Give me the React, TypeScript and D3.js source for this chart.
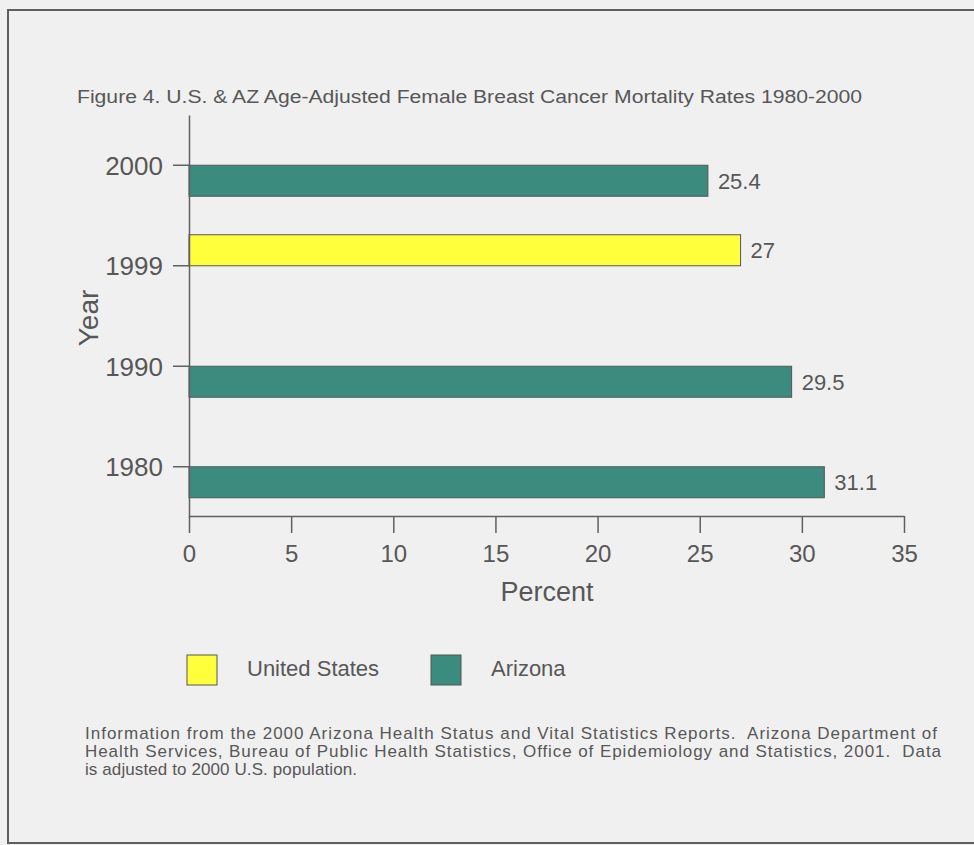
import { useRef, useEffect } from "react";
import * as d3 from "d3";

const years = ["2000", "1999", "1990", "1980"];
const seriesNames = ["United States", "Arizona"];
const usValues = [null, 27, null, null];
const azValues = [25.4, null, 29.5, 31.1];
const xTicks = [0, 5, 10, 15, 20, 25, 30, 35];
const seriesColors = ["#ffff3c", "#3b8b7f"];

const titleText = "Figure 4. U.S. & AZ Age-Adjusted Female Breast Cancer Mortality Rates 1980-2000";
const noteLines = [
    "Information from the 2000 Arizona Health Status and Vital Statistics Reports.  Arizona Department of",
    "Health Services, Bureau of Public Health Statistics, Office of Epidemiology and Statistics, 2001.  Data",
    "is adjusted to 2000 U.S. population.",
];
const noteWidths = [852, 856, 272];

const App = () => {
    const svgRef = useRef<SVGSVGElement>(null);

    useEffect(() => {
        const width = 974;
        const height = 845;
        const font = "'Liberation Sans', Arial, sans-serif";
        const textColor = "#575757";
        const axisColor = "#606060";

        const svg = d3.select(svgRef.current);
        svg.selectAll("*").remove();
        svg.attr("width", width).attr("height", height).style("font-family", font);

        // background + frame
        svg.append("rect").attr("width", width).attr("height", height).attr("fill", "#f0f0f0");
        svg.append("path")
            .attr("d", `M${width + 5},10 H8 V843 H${width + 5}`)
            .attr("fill", "none")
            .attr("stroke", "#5e5e5e")
            .attr("stroke-width", 2);

        svg.append("text")
            .attr("x", 77)
            .attr("y", 103)
            .attr("textLength", 785)
            .attr("lengthAdjust", "spacingAndGlyphs")
            .style("font-size", "18px")
            .style("fill", textColor)
            .text(titleText);

        const x = d3.scaleLinear().domain([0, 35]).range([189, 904]);
        const y = d3.scaleBand().domain(years).range([115, 517]);
        const inner = d3.scaleBand().domain(seriesNames).range([-31, 31]);

        // bars
        const rows = years.map((yr, i) => [
            { year: yr, series: seriesNames[0], value: usValues[i] },
            { year: yr, series: seriesNames[1], value: azValues[i] },
        ]).flat().filter((d) => d.value != null) as { year: string; series: string; value: number }[];

        const g = svg.append("g");
        g.selectAll("rect.bar")
            .data(rows)
            .join("rect")
            .attr("class", "bar")
            .attr("x", x(0))
            .attr("y", (d) => y(d.year)! + y.bandwidth() / 2 + inner(d.series)!)
            .attr("width", (d) => x(d.value) - x(0))
            .attr("height", inner.bandwidth())
            .attr("fill", (d) => seriesColors[seriesNames.indexOf(d.series)])
            .attr("stroke", "#555")
            .attr("stroke-width", 1);

        g.selectAll("text.val")
            .data(rows)
            .join("text")
            .attr("class", "val")
            .attr("x", (d) => x(d.value) + 10)
            .attr("y", (d) => y(d.year)! + y.bandwidth() / 2 + inner(d.series)! + inner.bandwidth() / 2 + 2)
            .attr("dominant-baseline", "middle")
            .style("font-size", "22px")
            .style("fill", textColor)
            .text((d) => String(d.value));

        // axes
        const xAxis = svg.append("g")
            .attr("transform", `translate(0,516)`)
            .call(d3.axisBottom(x).tickValues(xTicks).tickSize(17).tickSizeOuter(0).tickPadding(12));
        const yAxis = svg.append("g")
            .attr("transform", `translate(189,0)`)
            .call(d3.axisLeft(y).tickSize(16).tickSizeOuter(0).tickPadding(10));

        [xAxis, yAxis].forEach((ax) => {
            ax.selectAll("path, line").attr("stroke", axisColor).attr("stroke-width", 1.5);
            ax.selectAll("text").style("fill", textColor).style("font-family", font);
        });
        xAxis.selectAll("text").style("font-size", "24px");
        yAxis.selectAll("text").style("font-size", "26px").attr("dy", "0.36em");

        svg.append("text")
            .attr("x", 547)
            .attr("y", 601)
            .attr("text-anchor", "middle")
            .style("font-size", "27px")
            .style("fill", textColor)
            .text("Percent");

        svg.append("text")
            .attr("transform", "translate(98,318) rotate(-90)")
            .attr("text-anchor", "middle")
            .style("font-size", "28px")
            .style("fill", textColor)
            .text("Year");

        // legend
        const legendX = [187, 431];
        const legend = svg.append("g")
            .selectAll("g")
            .data(seriesNames)
            .join("g")
            .attr("transform", (_, i) => `translate(${legendX[i]},655)`);
        legend.append("rect")
            .attr("width", 30)
            .attr("height", 30)
            .attr("fill", (_, i) => seriesColors[i])
            .attr("stroke", "#555")
            .attr("stroke-width", 1);
        legend.append("text")
            .attr("x", 60)
            .attr("y", 15)
            .attr("dominant-baseline", "middle")
            .style("font-size", "22px")
            .style("fill", textColor)
            .text((d) => d);

        // source note
        svg.append("g")
            .selectAll("text")
            .data(noteLines)
            .join("text")
            .attr("x", 85)
            .attr("y", (_, i) => 739 + i * 18)
            .attr("textLength", (_, i) => noteWidths[i])
            .attr("lengthAdjust", "spacing")
            .style("font-size", "17px")
            .style("white-space", "pre")
            .style("fill", textColor)
            .text((d) => d);
    }, []);

    return (
        <svg ref={svgRef} style={{ position: "absolute", left: 0, top: 0, display: "block" }}></svg>
    );
};

export default App;
